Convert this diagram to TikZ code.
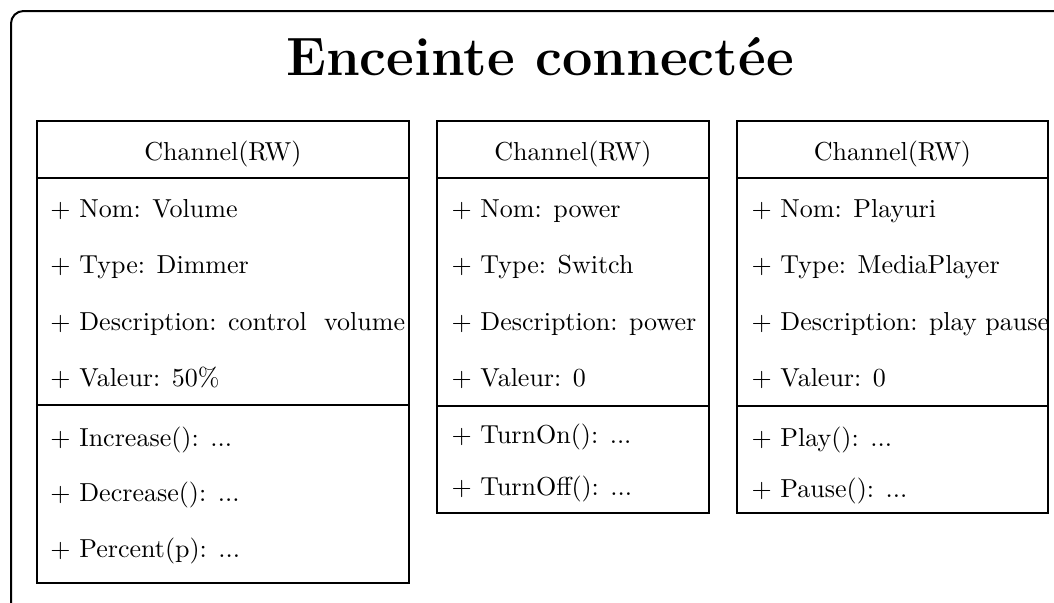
\documentclass[tikz,border=0pt]{standalone}
\usepackage{fontspec}
\begin{document}
\begin{tikzpicture}[x=0.4pt,y=-0.4pt,
  frame/.style={draw,line width=0.8pt,rounded corners=5pt},
  classbox/.style={draw,line width=0.9pt,rectangle,inner sep=0pt},
  divider/.style={line width=0.9pt},
  item/.style={anchor=base west,inner sep=0pt,font=\fontsize{10.4}{12.5}\selectfont},
  head/.style={anchor=base,inner sep=0pt,font=\fontsize{10.4}{12.5}\selectfont},
  title/.style={anchor=base,inner sep=0pt,font=\fontsize{21.6}{26}\selectfont\bfseries}]
\useasboundingbox (0,0) rectangle (1054,602);
\clip (0,0) rectangle (1054,602);
% outer frame
\coordinate (fa) at (11,11);
\coordinate (fb) at (1090,640);
\draw[frame] (fa) rectangle (fb);
\node[title] (title) at (540,75) {Enceinte connectée};
% box 1
\node[classbox,minimum width=148.8pt,minimum height=184.8pt] (b1) at (223,352) {};
\draw[divider] (b1.west |- 0,178) -- (b1.east |- 0,178);
\draw[divider] (b1.west |- 0,405) -- (b1.east |- 0,405);
\node[head] (b1h) at (223,160) {Channel(RW)};
\node[item] (b1a) at (50,217) {+ Nom: Volume};
\node[item] (b1b) at (50,273) {+ Type: Dimmer};
\node[item] (b1c) at (50,330) {+ Description: control\ \ volume};
\node[item] (b1d) at (50,386) {+ Valeur: 50\%};
\node[item] (b1e) at (50,446) {+ Increase(): ...};
\node[item] (b1f) at (50,501) {+ Decrease(): ...};
\node[item] (b1g) at (50,557) {+ Percent(p): ...};
% box 2
\node[classbox,minimum width=108.8pt,minimum height=156.8pt] (b2) at (573,317) {};
\draw[divider] (b2.west |- 0,178) -- (b2.east |- 0,178);
\draw[divider] (b2.west |- 0,406) -- (b2.east |- 0,406);
\node[head] (b2h) at (573,160) {Channel(RW)};
\node[item] (b2a) at (451,217) {+ Nom: power};
\node[item] (b2b) at (451,273) {+ Type: Switch};
\node[item] (b2c) at (451,330) {+ Description: power};
\node[item] (b2d) at (451,386) {+ Valeur: 0};
\node[item] (b2e) at (451,443) {+ TurnOn(): ...};
\node[item] (b2f) at (451,495) {+ TurnOff(): ...};
% box 3
\node[classbox,minimum width=124.4pt,minimum height=156.8pt] (b3) at (892.5,317) {};
\draw[divider] (b3.west |- 0,178) -- (b3.east |- 0,178);
\draw[divider] (b3.west |- 0,406) -- (b3.east |- 0,406);
\node[head] (b3h) at (892.5,160) {Channel(RW)};
\node[item] (b3a) at (751,217) {+ Nom: Playuri};
\node[item] (b3b) at (751,273) {+ Type: MediaPlayer};
\node[item] (b3c) at (751,330) {+ Description: play pause};
\node[item] (b3d) at (751,386) {+ Valeur: 0};
\node[item] (b3e) at (751,446) {+ Play(): ...};
\node[item] (b3f) at (751,497) {+ Pause(): ...};
\end{tikzpicture}
\end{document}
